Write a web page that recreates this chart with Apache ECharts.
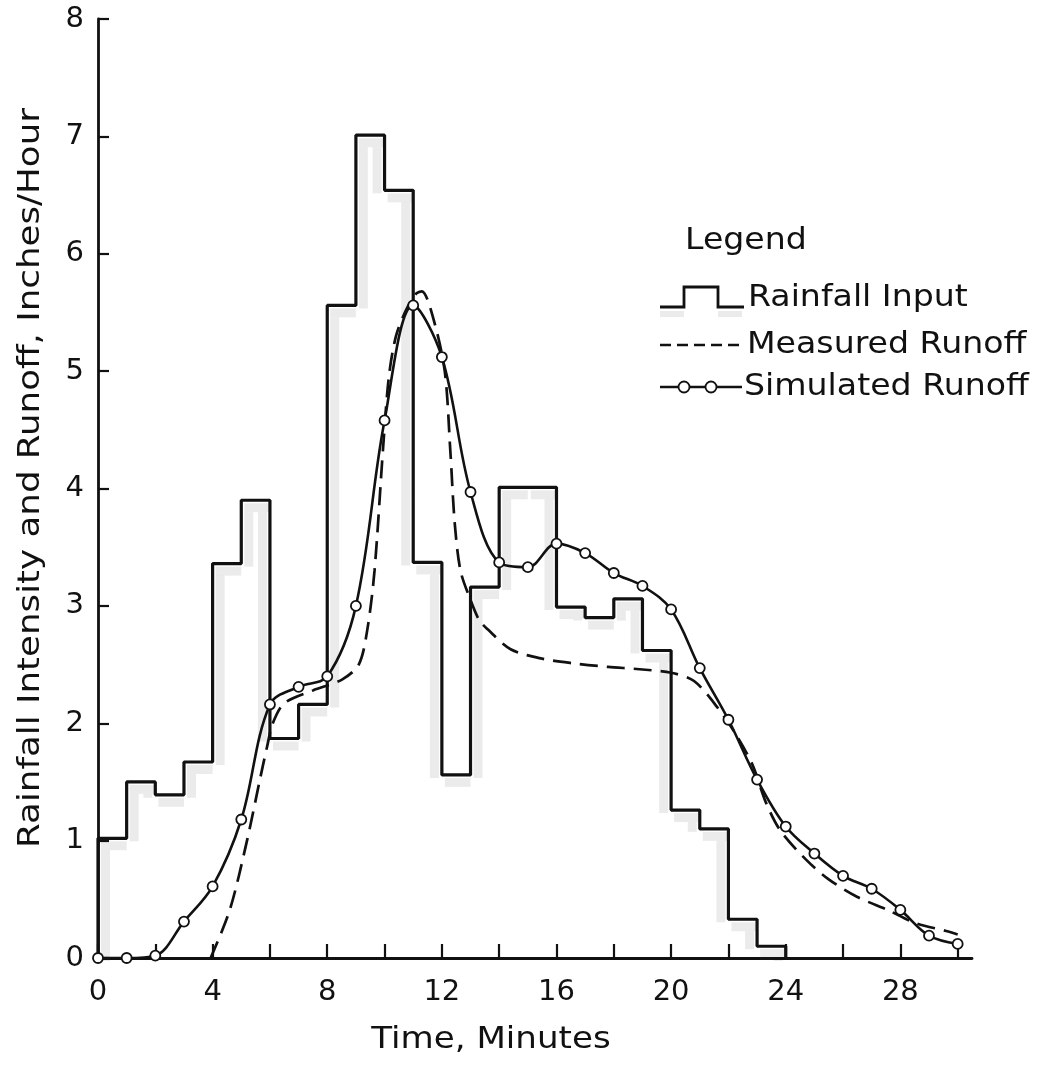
<!DOCTYPE html>
<html>
<head>
<meta charset="utf-8">
<script src="https://cdn.jsdelivr.net/npm/echarts@6/dist/echarts.min.js"></script>
<style>
  html, body { margin: 0; padding: 0; background: #fff; }
  #chart { width: 1045px; height: 1073px; }
</style>
</head>
<body>
<div id="chart"></div>
<script>
// Rainfall input, one value per minute (inches/hour), minutes 0..23
const minutes = [0, 1, 2, 3, 4, 5, 6, 7, 8, 9, 10, 11, 12, 13, 14, 15, 16, 17, 18, 19, 20, 21, 22, 23];
const rainfall = [1.02, 1.50, 1.39, 1.67, 3.36, 3.90, 1.87, 2.16, 5.56, 7.01, 6.54, 3.37,
                  1.56, 3.16, 4.01, 4.01, 2.99, 2.90, 3.06, 2.62, 1.26, 1.10, 0.33, 0.10];

// Simulated runoff, sampled every minute 0..30
const simMinutes = [0, 1, 2, 3, 4, 5, 6, 7, 8, 9, 10, 11, 12, 13, 14, 15, 16, 17, 18, 19, 20,
                    21, 22, 23, 24, 25, 26, 27, 28, 29, 30];
const simulated = [0, 0, 0.02, 0.31, 0.61, 1.18, 2.16, 2.31, 2.40, 3.00, 4.58, 5.56, 5.12, 3.97,
                   3.37, 3.33, 3.53, 3.45, 3.28, 3.17, 2.97, 2.47, 2.03, 1.52, 1.12, 0.89, 0.70,
                   0.59, 0.41, 0.19, 0.12];

// Measured runoff hydrograph (begins at about 3.9 min)
const measuredTime = [3.93, 4.6, 5.2, 5.65, 5.9, 6.1, 6.5, 7.5, 8.5, 9.1, 9.4, 9.65, 9.95,
                      10.15, 10.4, 10.75, 11.1, 11.3, 11.7, 12.1, 12.3, 12.45, 12.65, 13.0, 13.3,
                      13.6, 14.4, 15.5, 16.6, 17.8, 18.9, 20.0, 20.8, 21.6, 22.3, 22.85, 23.3,
                      23.8, 24.7, 25.5, 26.5, 27.55, 28.5, 29.6, 30.0];
const measured = [0, 0.41, 1.00, 1.52, 1.80, 2.00, 2.17, 2.28, 2.37, 2.50, 2.80, 3.30, 4.35,
                  4.95, 5.30, 5.52, 5.66, 5.68, 5.45, 5.00, 4.30, 3.70, 3.30, 3.05, 2.88,
                  2.80, 2.63, 2.55, 2.51, 2.48, 2.46, 2.43, 2.36, 2.14, 1.89, 1.64, 1.33,
                  1.09, 0.84, 0.67, 0.52, 0.41, 0.30, 0.23, 0.20];

const xTicks = [0, 2, 4, 6, 8, 10, 12, 14, 16, 18, 20, 22, 24, 26, 28, 30];
const xLabels = [0, 4, 8, 12, 16, 20, 24, 28];

const INK = '#111111';
const FONT = 'DejaVu Sans';
const TITLE_FONT = '31px "DejaVu Sans"';

// hyetograph outline: step up at each minute, back to zero at the end
const rainStep = [[0, 0]].concat(minutes.map((m, i) => [m, rainfall[i]]), [[minutes[minutes.length - 1] + 1, 0]]);
// per-minute blocks with neighbouring intensities, for the stippled inner edge
const rainBlocks = minutes.map((m, i) => [m, rainfall[i], i > 0 ? rainfall[i - 1] : 0,
                                          i < rainfall.length - 1 ? rainfall[i + 1] : 0]);

const chart = echarts.init(document.getElementById('chart'), null, { renderer: 'canvas' });

// hand-lettered text is a little wider than the font, so stretch it horizontally
function label(text, x, y, stretch, extra) {
  return Object.assign({
    type: 'text', x: x, y: y, scaleX: stretch, silent: true,
    style: { text: text, fill: INK, font: TITLE_FONT, align: 'left', verticalAlign: 'middle' }
  }, extra || {});
}

const LX = 660;
const LEGEND_STRETCH = 1.07;
chart.setOption({
  animation: false,
  backgroundColor: '#ffffff',
  grid: { left: 98, right: 73, top: 19, bottom: 115, containLabel: false },
  xAxis: {
    type: 'value', min: 0, max: 30.5,
    axisLine: { show: true, onZero: false, lineStyle: { color: INK, width: 2.8 } },
    axisTick: { show: true, inside: true, length: 14, customValues: xTicks, lineStyle: { color: INK, width: 2.2 } },
    axisLabel: { show: true, customValues: xLabels, margin: 20, color: INK, fontFamily: FONT, fontSize: 29 },
    splitLine: { show: false }
  },
  yAxis: {
    type: 'value', min: 0, max: 8, interval: 1,
    axisLine: { show: true, lineStyle: { color: INK, width: 2.8 } },
    axisTick: { show: true, inside: true, length: 11, lineStyle: { color: INK, width: 2.2 } },
    axisLabel: { show: true, margin: 14, color: INK, fontFamily: FONT, fontSize: 29 },
    splitLine: { show: false }
  },
  series: [
    {
      name: 'Rainfall shading',
      type: 'custom',
      data: rainBlocks,
      z: 1,
      silent: true,
      encode: { x: 0, y: 1 },
      renderItem: function (params, api) {
        const m = api.value(0), v = api.value(1), prev = api.value(2), next = api.value(3);
        const a = api.coord([m, v]);
        const b = api.coord([m + 1, v]);
        const yPrev = api.coord([m, prev])[1];
        const yNext = api.coord([m + 1, next])[1];
        const d = 9, g = 3;
        const fill = 'rgba(0,0,0,0.08)';
        const kids = [{ type: 'rect', shape: { x: a[0] + g, y: a[1] + g, width: b[0] - a[0] - g, height: d }, style: { fill: fill } }];
        if (v > prev) kids.push({ type: 'rect', shape: { x: a[0] + g, y: a[1] + g + d, width: d, height: Math.max(0, yPrev - a[1] - d) }, style: { fill: fill } });
        if (v > next) kids.push({ type: 'rect', shape: { x: b[0] - g - d, y: a[1] + g + d, width: d, height: Math.max(0, yNext - a[1] - d) }, style: { fill: fill } });
        return { type: 'group', children: kids };
      }
    },
    {
      name: 'Rainfall Input',
      type: 'line',
      step: 'end',
      data: rainStep,
      z: 3,
      symbol: 'none',
      lineStyle: { color: INK, width: 3.2 }
    },
    {
      name: 'Measured Runoff',
      type: 'line',
      data: measuredTime.map((t, i) => [t, measured[i]]),
      z: 4,
      smooth: 0.3,
      symbol: 'none',
      lineStyle: { color: INK, width: 2.7, type: [18, 9] }
    },
    {
      name: 'Simulated Runoff',
      type: 'line',
      data: simMinutes.map((t, i) => [t, simulated[i]]),
      z: 5,
      smooth: 0.35,
      showAllSymbol: true,
      symbol: 'circle',
      symbolSize: 10,
      itemStyle: { color: '#ffffff', borderColor: INK, borderWidth: 1.8 },
      lineStyle: { color: INK, width: 2.6 }
    }
  ],
  graphic: [
    // axis titles
    label('Time, Minutes', 491, 1040, 1.1, {
      style: { text: 'Time, Minutes', fill: INK, font: TITLE_FONT, align: 'center', verticalAlign: 'middle' }
    }),
    label('Rainfall Intensity and Runoff, Inches/Hour', 31, 478, 1.15, {
      rotation: Math.PI / 2,
      style: { text: 'Rainfall Intensity and Runoff, Inches/Hour', fill: INK, font: TITLE_FONT, align: 'center', verticalAlign: 'middle' }
    }),
    // legend
    label('Legend', LX + 25, 241, LEGEND_STRETCH),
    { type: 'rect', shape: { x: LX, y: 311, width: 24, height: 6 }, style: { fill: 'rgba(0,0,0,0.08)' }, silent: true },
    { type: 'rect', shape: { x: LX + 58, y: 311, width: 24, height: 6 }, style: { fill: 'rgba(0,0,0,0.08)' }, silent: true },
    { type: 'polyline',
      shape: { points: [[LX, 307], [LX + 24, 307], [LX + 24, 287], [LX + 58, 287], [LX + 58, 307], [LX + 84, 307]] },
      style: { stroke: INK, lineWidth: 2.8, fill: null } },
    label('Rainfall Input', LX + 88, 298, LEGEND_STRETCH),
    { type: 'line', shape: { x1: LX, y1: 345, x2: LX + 84, y2: 345 },
      style: { stroke: INK, lineWidth: 2.5, lineDash: [11, 6] } },
    label('Measured Runoff', LX + 87, 345, LEGEND_STRETCH),
    { type: 'line', shape: { x1: LX, y1: 387, x2: LX + 82, y2: 387 },
      style: { stroke: INK, lineWidth: 2.4 } },
    { type: 'circle', shape: { cx: LX + 24, cy: 387, r: 5.5 }, style: { fill: '#fff', stroke: INK, lineWidth: 1.8 } },
    { type: 'circle', shape: { cx: LX + 51, cy: 387, r: 5.5 }, style: { fill: '#fff', stroke: INK, lineWidth: 1.8 } },
    label('Simulated Runoff', LX + 84, 387, LEGEND_STRETCH)
  ]
});
</script>
</body>
</html>
